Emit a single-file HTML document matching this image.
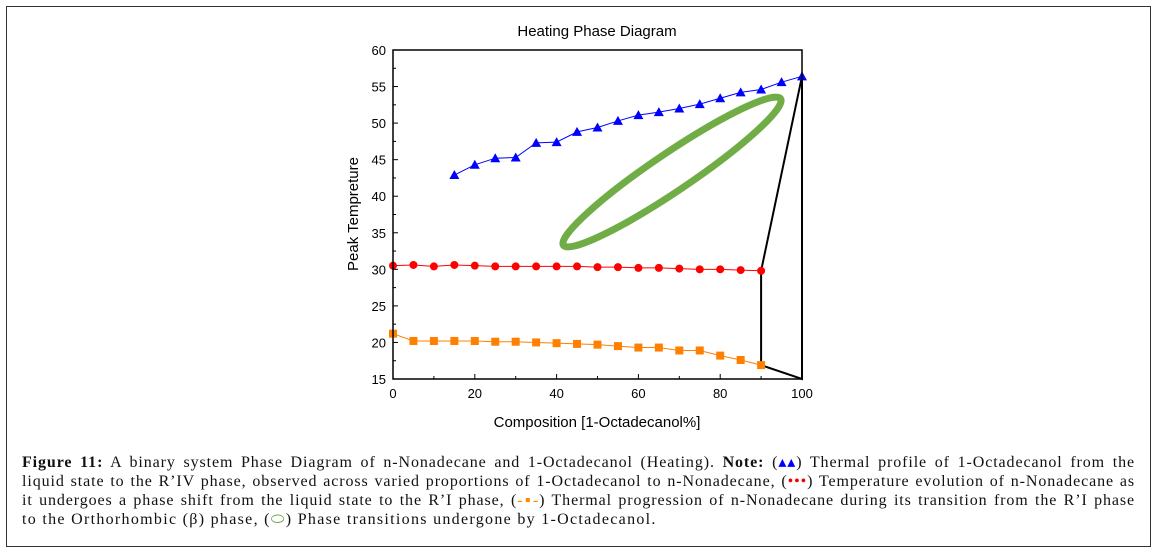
<!DOCTYPE html>
<html><head><meta charset="utf-8"><style>
body{margin:0;background:#fff;width:1161px;height:557px;overflow:hidden;position:relative;font-family:"Liberation Sans",sans-serif}
#frame{position:absolute;left:6px;top:6px;width:1145px;height:541px;border:1px solid #333;box-sizing:border-box}
#cap{position:absolute;left:22px;top:453px;width:1113px;font-family:"Liberation Serif",serif;font-size:16px;letter-spacing:0.9px;line-height:19px;color:#111}
#cap div{text-align:justify;text-align-last:justify;white-space:nowrap}
#cap div.last{text-align-last:left;letter-spacing:1.3px}
svg{position:absolute;left:0;top:0}
</style></head><body>
<div id="frame"></div>
<svg id="chart" width="1161" height="440"></svg>
<div id="cap">
<div><b>Figure 11:</b> A binary system Phase Diagram of n-Nonadecane and 1-Octadecanol (Heating). <b>Note:</b> (<span style="color:#0000ff">▴▴</span>) Thermal profile of 1-Octadecanol from the</div>
<div>liquid state to the R’IV phase, observed across varied proportions of 1-Octadecanol to n-Nonadecane, (<span style="color:#e00">•••</span>) Temperature evolution of n-Nonadecane as</div>
<div>it undergoes a phase shift from the liquid state to the R’I phase, (<span style="color:#f80">-▪-</span>) Thermal progression of n-Nonadecane during its transition from the R’I phase</div>
<div class="last">to the Orthorhombic (β) phase, (<span style="color:#70ad47">⬭</span>) Phase transitions undergone by 1-Octadecanol.</div>
</div>
<script>
const blueX=[15,20,25,30,35,40,45,50,55,60,65,70,75,80,85,90,95,100];
const blueY=[42.9,44.3,45.2,45.3,47.3,47.4,48.8,49.4,50.3,51.1,51.5,52.0,52.6,53.4,54.2,54.6,55.6,56.4];
const redX=[0,5,10,15,20,25,30,35,40,45,50,55,60,65,70,75,80,85,90];
const redY=[30.5,30.6,30.4,30.6,30.5,30.4,30.4,30.4,30.4,30.4,30.3,30.3,30.2,30.2,30.1,30.0,30.0,29.9,29.8];
const orangeX=[0,5,10,15,20,25,30,35,40,45,50,55,60,65,70,75,80,85,90];
const orangeY=[21.2,20.2,20.2,20.2,20.2,20.1,20.1,20.0,19.9,19.8,19.7,19.5,19.3,19.3,18.9,18.9,18.2,17.6,16.9];
const boundX=[90,90,100,100,90];
const boundY=[16.9,29.8,56.4,15,16.9];
const xTicks=[0,20,40,60,80,100];
const yTicks=[15,20,25,30,35,40,45,50,55,60];
const X0=393,X1=802,Y0=379,Y1=50;
const sx=v=>X0+(v-0)/(100-0)*(X1-X0);
const sy=v=>Y0-(v-15)/(60-15)*(Y0-Y1);
const svg=document.getElementById('chart');
const NS='http://www.w3.org/2000/svg';
function mk(t,a,p){const e=document.createElementNS(NS,t);for(const k in a)e.setAttribute(k,a[k]);(p||svg).appendChild(e);return e;}
let e;
e=mk('text',{x:597,y:36,'text-anchor':'middle','font-size':15});e.textContent='Heating Phase Diagram';


e=mk('ellipse',{cx:672,cy:172,rx:131,ry:19,fill:'none',stroke:'#70ad47','stroke-width':7,transform:'rotate(-34 672 172)'});


e=mk('polyline',{points:boundX.map((x,i)=>sx(x)+','+sy(boundY[i])).join(' '),fill:'none',stroke:'#000','stroke-width':2});


function series(xs,ys,col,shape,name){
  const l=mk('polyline',{points:xs.map((x,i)=>sx(x)+','+sy(ys[i])).join(' '),fill:'none',stroke:col,'stroke-width':1});
  
  
  xs.forEach((x,i)=>{const cx=sx(x),cy=sy(ys[i]);let m;
    if(shape=='tri')m=mk('polygon',{points:`${cx},${cy-5} ${cx-5},${cy+4} ${cx+5},${cy+4}`,fill:col});
    else if(shape=='circ')m=mk('circle',{cx:cx,cy:cy,r:4,fill:col});
    else m=mk('rect',{x:cx-4,y:cy-4,width:8,height:8,fill:col});
    
    
  });
}
series(blueX,blueY,'#0000ff','tri','octadecanol-liquid-riv');
series(redX,redY,'#ff0000','circ','nonadecane-liquid-ri');
series(orangeX,orangeY,'#ff8000','sq','nonadecane-ri-ortho');
e=mk('rect',{x:X0,y:Y1,width:X1-X0,height:Y0-Y1,fill:'none',stroke:'#000','stroke-width':1.5});


for(let v=10;v<100;v+=20)mk('line',{x1:sx(v),x2:sx(v),y1:Y0,y2:Y0-3,stroke:'#000'});
for(let v=17.5;v<60;v+=5)mk('line',{x1:X0,x2:X0+3,y1:sy(v),y2:sy(v),stroke:'#000'});
xTicks.forEach(v=>{mk('line',{x1:sx(v),x2:sx(v),y1:Y0,y2:Y0-5,stroke:'#000'});
  const t=mk('text',{x:sx(v),y:Y0+19,'text-anchor':'middle','font-size':13});t.textContent=v;
  
  });
yTicks.forEach(v=>{mk('line',{x1:X0,x2:X0+5,y1:sy(v),y2:sy(v),stroke:'#000'});
  const t=mk('text',{x:X0-7,y:sy(v)+5,'text-anchor':'end','font-size':13});t.textContent=v;
  
  });
e=mk('text',{x:597,y:427,'text-anchor':'middle','font-size':15});e.textContent='Composition [1-Octadecanol%]';


e=mk('text',{x:358,y:214,'text-anchor':'middle','font-size':15,transform:'rotate(-90 358 214)'});e.textContent='Peak Tempreture';


</script>
</body></html>
